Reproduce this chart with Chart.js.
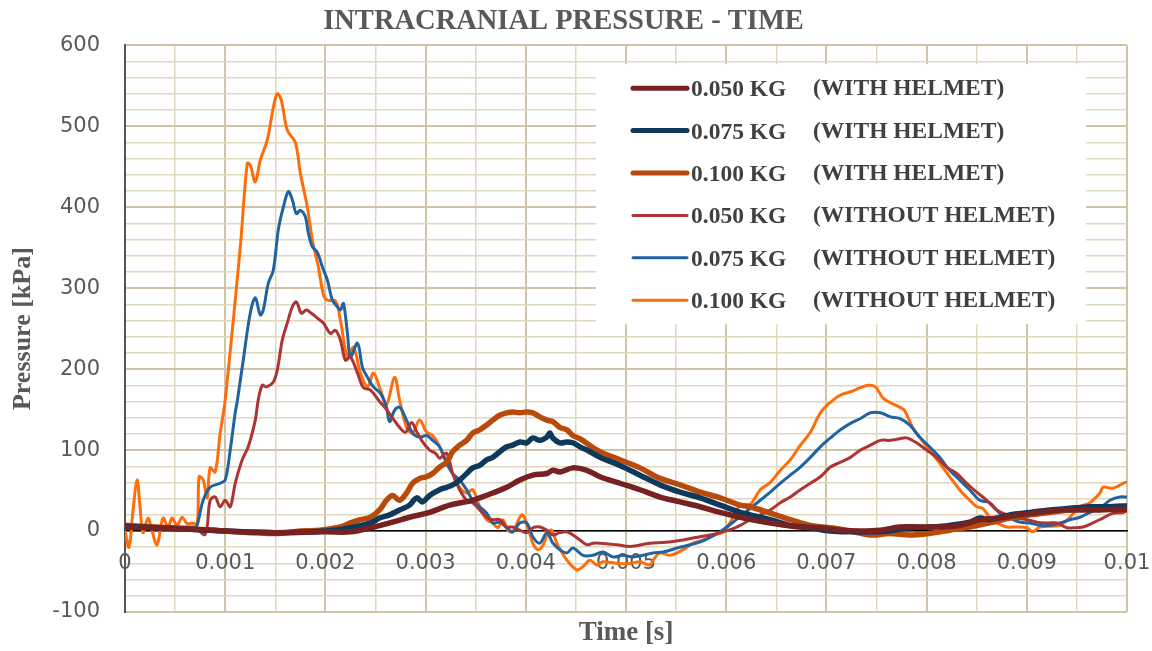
<!DOCTYPE html>
<html>
<head>
<meta charset="utf-8">
<script src="https://cdn.jsdelivr.net/npm/chart.js@4"></script>
<style>
  html, body { margin: 0; padding: 0; background: #fff; }
  #wrap { width: 1152px; height: 651px; }
</style>
</head>
<body>
<div id="wrap"><canvas id="icpChart"></canvas></div>
<script>
// [time in ms, pressure in kPa]
const darkRedHelmet = [[0,5],[0.5,3],[1.0,0],[1.5,-2],[2.0,-1],[2.25,-1],[2.45,4],[2.64,10],[2.84,17],[3.04,23],[3.24,32],[3.44,37],[3.54,41],[3.67,47],[3.81,54],[3.94,63],[4.07,69],[4.21,71],[4.27,75],[4.34,73],[4.47,78],[4.61,75],[4.74,67],[4.94,59],[5.14,51],[5.34,42],[5.54,36],[5.74,30],[5.94,23],[6.14,17],[6.34,12],[6.54,8],[6.74,5],[6.94,4],[7.14,1],[7.34,0],[7.54,1],[7.73,5],[7.93,5],[8.13,5],[8.33,7],[8.53,14],[8.73,16],[8.93,20],[9.13,23],[9.33,26],[9.53,26],[9.73,26],[9.93,27],[10,27]];

const navyHelmet = [[0,6],[0.5,3],[1.0,0],[1.5,-2],[2.0,0],[2.2,3],[2.45,10],[2.54,16],[2.64,20],[2.74,26],[2.84,32],[2.91,41],[2.97,36],[3.04,44],[3.14,51],[3.21,54],[3.27,57],[3.34,63],[3.41,71],[3.47,78],[3.54,81],[3.61,88],[3.67,91],[3.74,98],[3.81,104],[3.87,106],[3.94,110],[4.01,109],[4.07,115],[4.14,112],[4.21,116],[4.24,121],[4.27,115],[4.34,109],[4.41,110],[4.47,109],[4.54,104],[4.61,100],[4.74,91],[4.94,81],[5.14,69],[5.34,57],[5.54,48],[5.74,41],[5.94,32],[6.14,23],[6.24,20],[6.44,14],[6.64,7],[6.84,4],[7.04,0],[7.24,-1],[7.44,-1],[7.63,0],[7.83,4],[8.03,5],[8.23,7],[8.43,11],[8.53,16],[8.63,14],[8.83,20],[9.03,23],[9.23,26],[9.43,28],[9.63,30],[9.83,30],[10,31]];

const brownHelmet = [[0,7],[0.3,5],[0.6,3],[1.0,0],[1.5,-3],[1.75,0],[1.95,1],[2.15,5],[2.25,10],[2.35,14],[2.45,17],[2.54,26],[2.61,38],[2.67,44],[2.74,38],[2.81,47],[2.87,59],[2.94,65],[3.01,67],[3.07,71],[3.14,79],[3.21,85],[3.27,98],[3.34,106],[3.41,112],[3.47,121],[3.54,125],[3.61,131],[3.67,137],[3.74,143],[3.81,146],[3.87,147],[3.94,146],[4.01,147],[4.07,146],[4.14,141],[4.21,137],[4.27,135],[4.34,128],[4.41,125],[4.47,118],[4.54,114],[4.74,98],[4.94,88],[5.14,78],[5.34,65],[5.54,57],[5.74,48],[5.94,41],[6.14,32],[6.24,30],[6.44,22],[6.64,14],[6.84,7],[7.04,4],[7.24,0],[7.46,-5],[7.63,-3],[7.83,-5],[8.03,-3],[8.23,1],[8.43,5],[8.63,10],[8.83,16],[9.03,20],[9.23,23],[9.43,26],[9.63,28],[9.83,30],[10,31]];

const redNoHelmet = [[0,3],[0.7,3],[0.8,-4],[0.85,38],[0.9,42],[0.95,30],[1.0,38],[1.05,30],[1.1,59],[1.17,88],[1.23,104],[1.3,137],[1.33,162],[1.37,180],[1.41,178],[1.48,184],[1.52,199],[1.57,236],[1.62,257],[1.67,277],[1.71,283],[1.76,269],[1.81,273],[1.86,269],[1.92,263],[1.98,257],[2.05,244],[2.1,248],[2.15,236],[2.2,211],[2.25,215],[2.32,195],[2.38,177],[2.45,174],[2.54,160],[2.61,150],[2.68,138],[2.74,128],[2.8,122],[2.86,134],[2.91,123],[2.97,110],[3.04,100],[3.1,96],[3.14,90],[3.21,96],[3.27,71],[3.34,51],[3.41,38],[3.47,35],[3.54,26],[3.61,17],[3.67,14],[3.74,14],[3.81,5],[3.87,5],[3.94,1],[4.01,-2],[4.07,4],[4.14,5],[4.21,1],[4.27,-5],[4.34,-2],[4.41,-1],[4.47,-5],[4.54,-11],[4.61,-17],[4.67,-15],[4.74,-15],[4.91,-17],[5.04,-19],[5.24,-15],[5.4,-14],[5.57,-11],[5.74,-7],[5.91,-3],[6.07,3],[6.14,7],[6.24,14],[6.34,20],[6.44,26],[6.54,35],[6.64,42],[6.74,51],[6.84,59],[6.94,67],[7.04,79],[7.14,85],[7.24,91],[7.34,100],[7.44,106],[7.54,112],[7.64,112],[7.73,114],[7.8,115],[7.9,109],[8.0,100],[8.1,91],[8.2,79],[8.3,71],[8.4,59],[8.5,48],[8.6,38],[8.7,26],[8.8,20],[8.9,16],[9.0,14],[9.1,11],[9.2,10],[9.3,10],[9.4,4],[9.46,4],[9.56,5],[9.66,10],[9.76,16],[9.86,22],[9.96,23],[10,25]];

const blueNoHelmet = [[0,5],[0.7,5],[0.72,7],[0.78,38],[0.85,54],[0.95,59],[1.0,63],[1.05,100],[1.1,146],[1.12,160],[1.18,211],[1.25,269],[1.3,288],[1.35,267],[1.38,273],[1.43,306],[1.48,322],[1.53,372],[1.58,400],[1.63,419],[1.67,409],[1.71,392],[1.75,396],[1.8,388],[1.83,368],[1.87,351],[1.92,344],[1.97,326],[2.02,310],[2.07,285],[2.12,277],[2.15,273],[2.18,281],[2.22,244],[2.25,215],[2.32,232],[2.37,202],[2.42,190],[2.48,178],[2.55,170],[2.61,153],[2.64,135],[2.69,149],[2.74,153],[2.81,137],[2.87,121],[2.94,116],[3.01,118],[3.07,112],[3.14,104],[3.21,84],[3.27,71],[3.34,63],[3.41,51],[3.47,38],[3.54,30],[3.61,22],[3.67,10],[3.74,11],[3.81,4],[3.87,-1],[3.94,10],[4.01,10],[4.07,-7],[4.14,-15],[4.21,-2],[4.27,-15],[4.34,-23],[4.41,-27],[4.47,-21],[4.57,-30],[4.67,-30],[4.77,-26],[4.87,-32],[4.97,-30],[5.07,-32],[5.17,-30],[5.27,-27],[5.37,-26],[5.51,-21],[5.64,-17],[5.77,-12],[5.87,-6],[5.94,-1],[6.07,11],[6.21,25],[6.34,38],[6.44,48],[6.54,59],[6.64,69],[6.74,79],[6.84,91],[6.94,104],[7.04,115],[7.14,125],[7.24,133],[7.34,139],[7.44,146],[7.54,146],[7.64,141],[7.73,139],[7.83,131],[7.93,116],[8.03,104],[8.13,91],[8.23,75],[8.33,63],[8.43,51],[8.53,38],[8.63,35],[8.73,22],[8.83,16],[8.93,11],[9.03,10],[9.13,7],[9.23,7],[9.33,10],[9.43,14],[9.53,17],[9.63,23],[9.73,28],[9.83,38],[9.93,42],[10,42]];

const orangeNoHelmet = [[0,0],[0.04,-20],[0.08,25],[0.12,63],[0.15,30],[0.18,-2],[0.23,16],[0.27,0],[0.32,-17],[0.38,16],[0.43,5],[0.47,16],[0.52,7],[0.57,17],[0.62,9],[0.67,10],[0.72,9],[0.74,67],[0.78,63],[0.82,41],[0.85,78],[0.9,73],[0.95,121],[1.0,162],[1.15,350],[1.22,454],[1.25,452],[1.3,431],[1.35,458],[1.42,483],[1.48,523],[1.52,540],[1.56,532],[1.62,495],[1.7,480],[1.75,442],[1.82,400],[1.87,359],[1.93,326],[1.98,292],[2.02,285],[2.1,284],[2.15,260],[2.22,215],[2.28,227],[2.35,195],[2.42,178],[2.48,195],[2.55,174],[2.61,156],[2.69,190],[2.74,162],[2.81,128],[2.87,121],[2.94,137],[3.01,122],[3.07,118],[3.14,104],[3.21,84],[3.27,71],[3.34,54],[3.41,47],[3.47,51],[3.54,30],[3.61,14],[3.67,10],[3.72,4],[3.77,14],[3.82,1],[3.87,-1],[3.94,17],[3.97,20],[4.02,5],[4.07,-15],[4.12,-23],[4.17,-18],[4.22,-2],[4.26,1],[4.31,-15],[4.41,-36],[4.51,-48],[4.57,-44],[4.64,-36],[4.71,-42],[4.77,-38],[4.91,-40],[5.04,-40],[5.14,-38],[5.24,-42],[5.27,-36],[5.34,-27],[5.44,-30],[5.57,-23],[5.67,-15],[5.77,-11],[5.87,-5],[5.97,-1],[6.07,17],[6.14,32],[6.24,33],[6.34,51],[6.44,60],[6.54,75],[6.64,88],[6.74,106],[6.84,122],[6.94,146],[7.04,159],[7.14,168],[7.24,172],[7.34,177],[7.42,180],[7.49,178],[7.56,165],[7.63,159],[7.73,153],[7.78,149],[7.86,128],[7.93,116],[8.03,100],[8.13,84],[8.23,67],[8.33,51],[8.43,38],[8.5,30],[8.56,28],[8.63,17],[8.7,10],[8.8,5],[8.9,5],[9.0,4],[9.06,-1],[9.13,5],[9.33,7],[9.43,17],[9.53,30],[9.63,35],[9.73,47],[9.76,54],[9.86,53],[9.98,60],[10,60]];

const legendMass = ['0.050 KG', '0.075 KG', '0.100 KG', '0.050 KG', '0.075 KG', '0.100 KG'];
const legendCond = ['(WITH HELMET)', '(WITH HELMET)', '(WITH HELMET)', '(WITHOUT HELMET)', '(WITHOUT HELMET)', '(WITHOUT HELMET)'];
const yTickLabels = ['-100', '0', '100', '200', '300', '400', '500', '600'];
const xTickLabels = ['0', '0.001', '0.002', '0.003', '0.004', '0.005', '0.006', '0.007', '0.008', '0.009', '0.01'];

const seriesData = [darkRedHelmet, navyHelmet, brownHelmet, redNoHelmet, blueNoHelmet, orangeNoHelmet];
const seriesColors = ['#772222', '#0d3a5c', '#b84a0c', '#ad3434', '#1f63a0', '#ff6d0a'];
const seriesWidths = [5.5, 5.5, 5.5, 3, 3, 3];

const serif = 'Liberation Serif, Times New Roman, serif';
const labelGray = '#595959';
const majorGrid = '#cfc5a4';
const minorGrid = '#dfd7bd';

const isWhole = (v) => Math.abs(v - Math.round(v)) < 1e-6;

// legend sits inside the plot, upper right, on a white box
const insideLegend = {
  id: 'insideLegend',
  afterDatasetsDraw(chart) {
    const g = chart.ctx;
    const area = chart.chartArea;
    const left = area.left + 471;
    const top = area.top + 19;
    g.save();
    g.fillStyle = '#ffffff';
    g.fillRect(left, top, 490, 260);
    g.font = 'bold 23.5px "Liberation Serif", serif';
    g.textBaseline = 'middle';
    g.textAlign = 'left';
    g.lineCap = 'round';
    chart.data.datasets.forEach((ds, i) => {
      const rowY = top + 24 + i * 42.4;
      g.strokeStyle = ds.borderColor;
      g.lineWidth = i < 3 ? 5 : 3;
      g.beginPath();
      g.moveTo(left + 37, rowY);
      g.lineTo(left + 91, rowY);
      g.stroke();
      g.fillStyle = '#404040';
      g.fillText(legendMass[i], left + 95, rowY + 2);
      g.fillText(legendCond[i], left + 217, rowY + 1);
    });
    g.restore();
  }
};

new Chart(document.getElementById('icpChart').getContext('2d'), {
  type: 'line',
  data: {
    datasets: seriesData.map((pts, i) => ({
      label: legendMass[i] + ' ' + legendCond[i],
      data: pts.map(([t, p]) => ({ x: t, y: p })),
      borderColor: seriesColors[i],
      borderWidth: seriesWidths[i],
      pointRadius: 0,
      tension: 0.35,
      fill: false
    }))
  },
  options: {
    responsive: true,
    maintainAspectRatio: false,
    animation: false,
    layout: { padding: { left: 0, right: 25, top: 0, bottom: 0 } },
    plugins: {
      legend: { display: false },
      tooltip: { enabled: false },
      title: {
        display: true,
        text: 'INTRACRANIAL PRESSURE - TIME',
        color: labelGray,
        font: { family: serif, size: 28.5, weight: 'bold' },
        padding: { top: 5, bottom: 6 }
      }
    },
    scales: {
      x: {
        type: 'linear',
        min: 0,
        max: 10,
        position: { y: 0 },
        afterFit: (scale) => { scale.height = 0; scale.paddingRight = 0; scale.paddingLeft = 0; },
        ticks: {
          stepSize: 0.5,
          autoSkip: false,
          maxRotation: 0,
          padding: 20,
          color: labelGray,
          font: { family: 'DejaVu Sans', size: 21 },
          callback: (v) => (isWhole(v) ? xTickLabels[Math.round(v)] : '')
        },
        grid: {
          drawTicks: false,
          color: (c) => (c.tick && isWhole(c.tick.value) ? majorGrid : minorGrid),
          lineWidth: (c) => (c.tick && isWhole(c.tick.value) ? 2 : 1.5)
        },
        border: { display: true, color: '#000000', width: 1.5 }
      },
      xTitle: {
        type: 'linear',
        position: 'bottom',
        min: 0,
        max: 10,
        afterFit: (scale) => { scale.height = 39; },
        ticks: { display: false },
        grid: { display: false },
        border: { display: false },
        title: {
          display: true,
          text: 'Time [s]',
          color: labelGray,
          font: { family: serif, size: 27, weight: 'bold' },
          padding: { top: 0, bottom: 2 }
        }
      },
      y: {
        min: -100,
        max: 600,
        afterFit: (scale) => { scale.width = 125; },
        ticks: {
          stepSize: 20,
          autoSkip: false,
          padding: 25,
          color: labelGray,
          font: { family: 'DejaVu Sans', size: 21 },
          callback: (v) => (v % 100 === 0 ? yTickLabels[(v + 100) / 100] : '')
        },
        grid: {
          drawTicks: false,
          color: (c) => (c.tick && c.tick.value % 100 === 0 ? majorGrid : minorGrid),
          lineWidth: (c) => (c.tick && c.tick.value % 100 === 0 ? 2 : 1.5)
        },
        border: { display: true, color: '#555555', width: 2 },
        title: {
          display: true,
          text: 'Pressure [kPa]',
          color: labelGray,
          font: { family: serif, size: 26, weight: 'bold' },
          padding: { top: 8, bottom: 0 }
        }
      }
    }
  },
  plugins: [insideLegend]
});
</script>
</body>
</html>
